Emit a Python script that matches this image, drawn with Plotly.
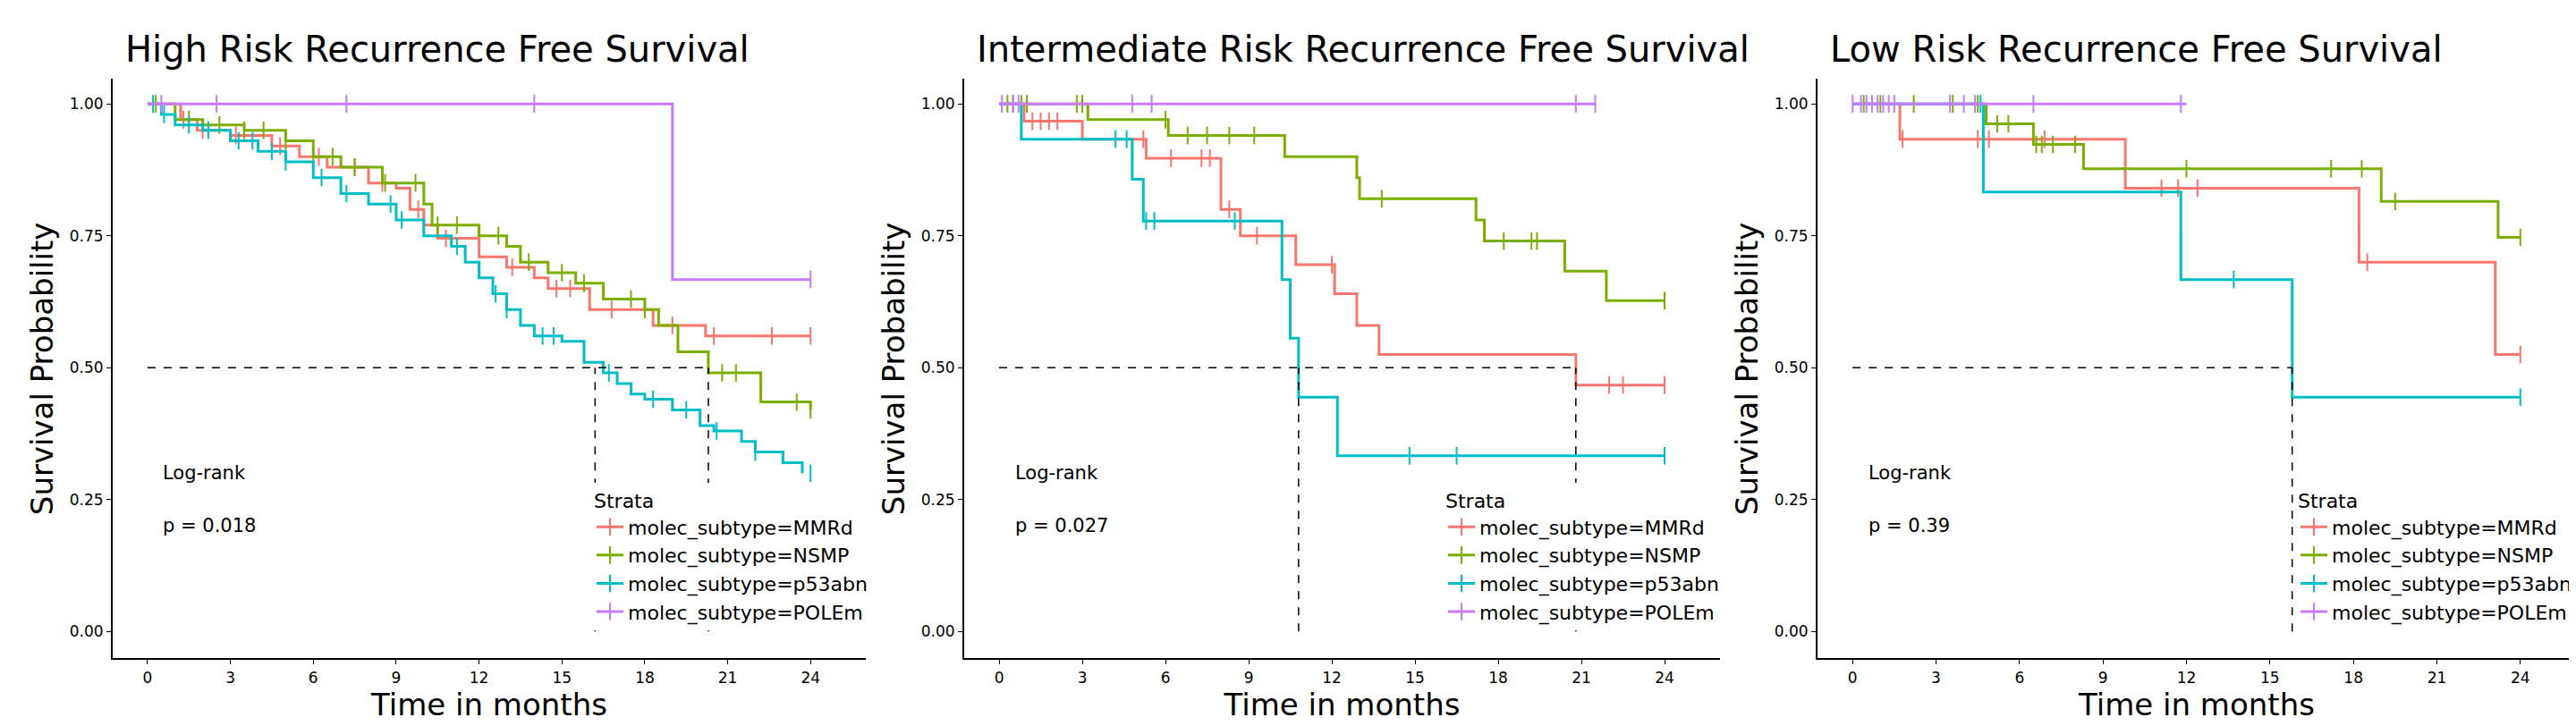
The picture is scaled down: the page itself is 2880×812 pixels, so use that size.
import numpy as np
import plotly.graph_objects as go

# colours used by ggplot for four strata
COLORS = ["#F8766D", "#7CAE00", "#00BFC4", "#C77CFF"]
STRATA = ["molec_subtype=MMRd", "molec_subtype=NSMP", "molec_subtype=p53abn", "molec_subtype=POLEm"]
TITLES = ["High Risk Recurrence Free Survival", "Intermediate Risk Recurrence Free Survival",
          "Low Risk Recurrence Free Survival"]
P_VALUES = ["p = 0.018", "p = 0.027", "p = 0.39"]
MEDIANS = [[16.2, 20.3], [10.8, 20.8], [15.8]]

# high risk
high_mmrd_t = [0, 1.2, 1.8, 3, 4.5, 5.5, 6.5, 8, 9, 9.5, 10, 10.5, 12, 13, 14, 14.5, 16, 18.3, 20.2, 24]
high_mmrd_s = [1, 0.97, 0.95, 0.94, 0.92, 0.90, 0.88, 0.85, 0.84, 0.80, 0.77, 0.745, 0.71, 0.69, 0.67, 0.65, 0.61, 0.58, 0.56, 0.56]
high_mmrd_c = [1.3, 2.0, 3.2, 4.8, 6.2, 7.5, 8.5, 9.8, 10.8, 13.2, 14.8, 15.3, 16.8, 19.0, 20.5, 22.6, 24]
high_nsmp_t = [0, 1, 2, 3.5, 5, 6, 7, 8.5, 10, 10.3, 12, 13, 13.5, 14.5, 15.5, 16.5, 18, 18.5, 19.2, 20.3, 22.2, 24]
high_nsmp_s = [1, 0.97, 0.96, 0.95, 0.93, 0.90, 0.88, 0.85, 0.81, 0.77, 0.75, 0.73, 0.70, 0.68, 0.66, 0.63, 0.61, 0.58, 0.53, 0.49, 0.435, 0.42]
high_nsmp_c = [0.3, 1.5, 2.6, 3.5, 4.2, 5.0, 6.0, 6.7, 7.5, 8.6, 9.7, 10.5, 11.2, 12.7, 13.8, 15.0, 15.8, 17.5, 18.0, 20.8, 21.3, 23.5, 24]
high_p53_t = [0, 0.5, 1, 2, 3, 4, 5, 6, 7, 8, 9, 10, 11, 11.5, 12, 12.5, 13, 13.5, 14, 15, 15.8, 16.5, 17, 17.5, 18, 19, 20, 20.5, 21.5, 22, 23, 23.7]
high_p53_s = [1, 0.98, 0.96, 0.95, 0.93, 0.91, 0.89, 0.86, 0.83, 0.81, 0.78, 0.75, 0.73, 0.70, 0.67, 0.64, 0.61, 0.58, 0.56, 0.55, 0.51, 0.49, 0.47, 0.45, 0.44, 0.42, 0.39, 0.38, 0.36, 0.34, 0.32, 0.30]
high_p53_c = [0.2, 0.6, 1.5, 2.2, 3.3, 3.8, 4.5, 5.0, 6.3, 7.2, 8.8, 9.2, 11.2, 12.6, 13.0, 14.3, 14.7, 16.7, 18.3, 19.5, 20.6, 22.0, 24]
high_pole_t = [0, 19.0, 24]
high_pole_s = [1, 0.667, 0.667]
high_pole_c = [0.5, 2.5, 7.2, 14.0, 24]

# intermediate risk
int_mmrd_t = [0, 0.9, 3, 5.3, 8, 8.7, 10.7, 12.1, 12.9, 13.7, 20.8, 24]
int_mmrd_s = [1, 0.967, 0.933, 0.897, 0.80, 0.75, 0.695, 0.64, 0.58, 0.525, 0.467, 0.467]
int_mmrd_c = [1.2, 1.5, 1.8, 2.1, 5.2, 6.2, 7.3, 7.6, 8.3, 9.3, 12.0, 22.0, 22.5, 24]
int_nsmp_t = [0, 3.2, 6.1, 10.3, 12.9, 13.0, 17.2, 17.5, 20.4, 21.9, 24]
int_nsmp_s = [1, 0.97, 0.94, 0.90, 0.86, 0.82, 0.78, 0.74, 0.683, 0.627, 0.627]
int_nsmp_c = [0.3, 0.5, 0.8, 1.0, 2.8, 3.0, 6.0, 6.8, 7.5, 8.3, 9.2, 13.8, 18.2, 19.2, 19.4, 24]
int_p53_t = [0, 0.8, 4.8, 5.2, 10.2, 10.5, 10.8, 12.2, 24]
int_p53_s = [1, 0.933, 0.857, 0.778, 0.667, 0.556, 0.444, 0.333, 0.333]
int_p53_c = [4.2, 4.6, 5.3, 5.6, 8.5, 14.8, 16.5, 24]
int_pole_t = [0, 21.5]
int_pole_s = [1, 1]
int_pole_c = [0.1, 0.5, 0.7, 4.8, 5.5, 20.8, 21.5]

# low risk
low_mmrd_t = [0, 1.7, 9.8, 18.2, 23.1, 24]
low_mmrd_s = [1, 0.933, 0.84, 0.70, 0.525, 0.525]
low_mmrd_c = [1.8, 4.5, 4.9, 6.9, 11.1, 11.7, 12.4, 18.5, 24]
low_nsmp_t = [0, 4.8, 6.5, 8.3, 19.0, 23.2, 24]
low_nsmp_s = [1, 0.962, 0.923, 0.877, 0.815, 0.747, 0.747]
low_nsmp_c = [0.4, 1.0, 2.2, 3.6, 4.5, 5.2, 5.6, 6.6, 6.8, 7.2, 8.0, 12.0, 17.2, 18.3, 19.5, 24]
low_p53_t = [0, 4.7, 11.8, 15.8, 24]
low_p53_s = [1, 0.833, 0.667, 0.444, 0.444]
low_p53_c = [4.6, 13.7, 24]
low_pole_t = [0, 12.0]
low_pole_s = [1, 1]
low_pole_c = [0.0, 0.3, 0.5, 0.7, 0.9, 1.1, 1.3, 1.5, 3.5, 4.0, 4.4, 6.5, 11.8]

PANELS = [
    [(high_mmrd_t, high_mmrd_s, high_mmrd_c), (high_nsmp_t, high_nsmp_s, high_nsmp_c),
     (high_p53_t, high_p53_s, high_p53_c), (high_pole_t, high_pole_s, high_pole_c)],
    [(int_mmrd_t, int_mmrd_s, int_mmrd_c), (int_nsmp_t, int_nsmp_s, int_nsmp_c),
     (int_p53_t, int_p53_s, int_p53_c), (int_pole_t, int_pole_s, int_pole_c)],
    [(low_mmrd_t, low_mmrd_s, low_mmrd_c), (low_nsmp_t, low_nsmp_s, low_nsmp_c),
     (low_p53_t, low_p53_s, low_p53_c), (low_pole_t, low_pole_s, low_pole_c)],
]

X_DOMAINS = [(118 / 2880, 960 / 2880), (1070 / 2880, 1915 / 2880), (2024 / 2880, 2872 / 2880)]
LEGEND_X = [654 / 2880, 1606 / 2880, 2559 / 2880]
FONT = "DejaVu Sans"


def step_value(times, surv, t):
    idx = np.searchsorted(times, t, side="right") - 1
    return np.asarray(surv)[idx]


def build_figure():
    fig = go.Figure()
    annotations = []
    layout = {}
    for p, curves in enumerate(PANELS):
        sfx = "" if p == 0 else str(p + 1)
        xa, ya = "x" + sfx, "y" + sfx
        legend_name = "legend" + sfx
        for k, (t, s, c) in enumerate(curves):
            fig.add_trace(go.Scatter(
                x=t, y=s, mode="lines", line=dict(color=COLORS[k], width=3, shape="hv"),
                xaxis=xa, yaxis=ya, showlegend=False,
            ))
            fig.add_trace(go.Scatter(
                x=c, y=step_value(t, s, c), mode="markers",
                marker=dict(symbol="line-ns", size=14, line=dict(color=COLORS[k], width=2)),
                xaxis=xa, yaxis=ya, showlegend=False,
            ))
            # legend key: line with a censor cross
            fig.add_trace(go.Scatter(
                x=[None], y=[None], mode="lines+markers", name=STRATA[k],
                line=dict(color=COLORS[k], width=3),
                marker=dict(symbol="line-ns", size=14, line=dict(color=COLORS[k], width=2)),
                xaxis=xa, yaxis=ya, legend=legend_name,
            ))
        # median lines
        med = MEDIANS[p]
        fig.add_trace(go.Scatter(x=[0, max(med)], y=[0.5, 0.5], mode="lines",
                                 line=dict(color="black", dash="dash", width=1.5),
                                 xaxis=xa, yaxis=ya, showlegend=False))
        for m in med:
            fig.add_trace(go.Scatter(x=[m, m], y=[0, 0.5], mode="lines",
                                     line=dict(color="black", dash="dash", width=1.5),
                                     xaxis=xa, yaxis=ya, showlegend=False))
        layout["xaxis" + sfx] = dict(
            domain=X_DOMAINS[p], range=[-1.26, 26.0], tickvals=list(range(0, 25, 3)),
            showline=True, linecolor="black", linewidth=2, ticks="outside", tickcolor="black",
            showgrid=False, zeroline=False, anchor=ya, tickfont=dict(size=17, color="black"),
            title=dict(text="Time in months", font=dict(size=34, color="black"), standoff=6),
        )
        layout["yaxis" + sfx] = dict(
            domain=[0.103, 0.901], range=[-0.051, 1.047], tickvals=[0, 0.25, 0.5, 0.75, 1.0],
            tickformat=".2f", showline=True, linecolor="black", linewidth=2, ticks="outside",
            tickcolor="black", showgrid=False, zeroline=False, anchor=xa,
            tickfont=dict(size=17, color="black"),
            title=dict(text="Survival Probability", font=dict(size=34, color="black"), standoff=8),
        )
        layout[legend_name] = dict(
            x=LEGEND_X[p], y=0.345, xanchor="left", yanchor="top", bgcolor="white",
            title=dict(text="Strata", font=dict(size=22)), font=dict(size=22, color="black"),
            tracegroupgap=0, itemwidth=30,
        )
        annotations += [
            dict(x=0.5, y=0.30, xref=xa, yref=ya, text="Log-rank", showarrow=False,
                 xanchor="left", font=dict(size=21, color="black")),
            dict(x=0.5, y=0.20, xref=xa, yref=ya, text=P_VALUES[p], showarrow=False,
                 xanchor="left", font=dict(size=21, color="black")),
            dict(x=X_DOMAINS[p][0] + 0.004, y=1 - 47 / 812, xref="paper", yref="paper",
                 text=TITLES[p], showarrow=False, xanchor="left", yanchor="middle",
                 font=dict(size=40, color="black")),
        ]
    fig.update_layout(
        **layout,
        annotations=annotations,
        width=2880, height=812,
        margin=dict(l=0, r=0, t=0, b=0),
        plot_bgcolor="white", paper_bgcolor="white",
        font=dict(family=FONT, color="black"),
    )
    return fig


fig = build_figure()
fig.write_html("out.html")
